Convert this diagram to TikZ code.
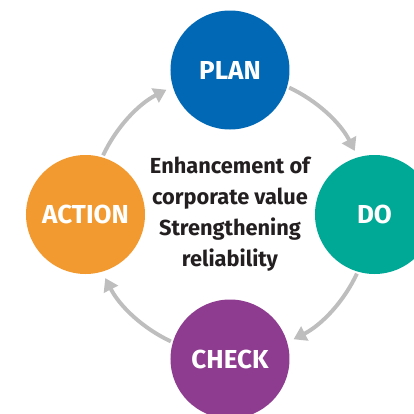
\documentclass[tikz,border=0pt]{standalone}
\usepackage{fontspec}
\setmainfont{Fira Sans}
\usetikzlibrary{arrows.meta}

\definecolor{planblue}{RGB}{0,104,180}
\definecolor{doteal}{RGB}{0,168,150}
\definecolor{checkpurple}{RGB}{142,60,143}
\definecolor{actionorange}{RGB}{242,154,48}
\definecolor{cyclegray}{RGB}{190,190,190}
\definecolor{textdark}{RGB}{35,31,32}

\tikzset{
  stage/.style={circle, minimum size=2.975cm, inner sep=0pt, text=white,
    font=\bfseries\fontsize{18.5}{22}\selectfont},
  cyc/.style={draw=cyclegray, line width=2.8pt,
    -{Triangle[length=9pt, width=11pt]}}
}

\begin{document}
\begin{tikzpicture}
  \useasboundingbox (-5.75,-4.9875) rectangle (4.6,5.3625);
  % centre of the cycle
  \coordinate (hub) at (0,0);

  \node[stage, fill=planblue] (plan) at (0,3.6125) {PLAN};
  \node[stage, fill=doteal] (do) at (3.6125,0) {DO};
  \node[stage, fill=checkpurple] (check) at (0,-3.6125) {CHECK};
  \node[stage, fill=actionorange] (action) at (-3.6125,0) {ACTION};

  \node[text=textdark, align=center, font=\bfseries\fontsize{15.5}{22}\selectfont] (goal) at (hub)
    {Enhancement of\\corporate value\\Strengthening\\reliability};

  % clockwise arrows
  \foreach \a in {90,0,-90,-180}
    \draw[cyc] ([shift={(\a-25:3.5)}]hub) arc[start angle=\a-25, end angle=\a-63, radius=3.5];
\end{tikzpicture}
\end{document}
